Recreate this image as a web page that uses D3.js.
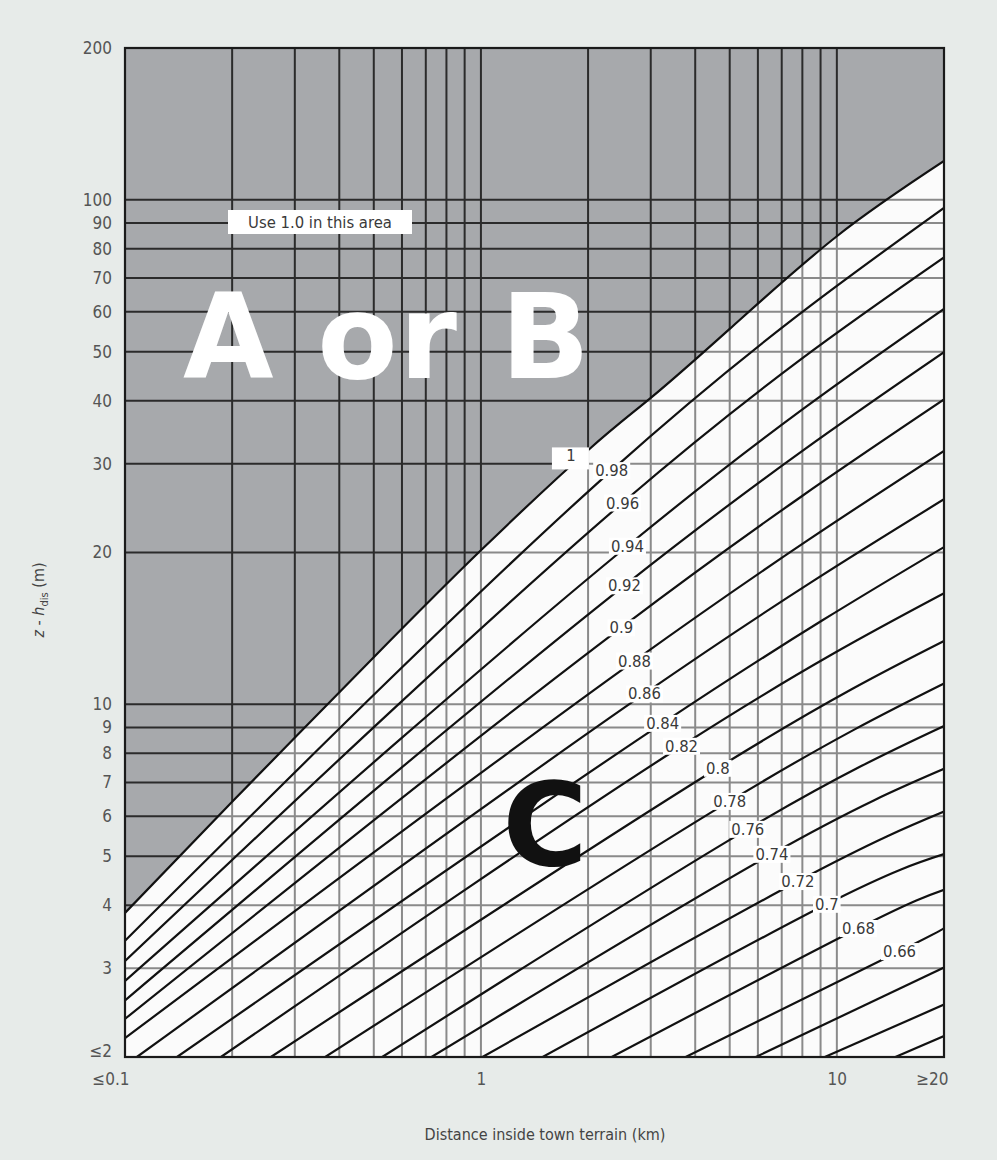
<!DOCTYPE html>
<html>
<head>
<meta charset="utf-8">
<script src="https://cdn.jsdelivr.net/npm/d3@7"></script>
<style>
  body { margin: 0; background: #e7ebe9; }
  svg { display: block; font-family: "DejaVu Sans Condensed", "DejaVu Sans", sans-serif; }
</style>
</head>
<body>
<svg id="chart" width="997" height="1160"></svg>
<script>
// axis ticks
const xTicks = [0.1, 1, 10, 20];
const xTickLabels = ["≤0.1", "1", "10", "≥20"];
const yTicks = [2, 3, 4, 5, 6, 7, 8, 9, 10, 20, 30, 40, 50, 60, 70, 80, 90, 100, 200];
const yTickLabels = ["≤2", "3", "4", "5", "6", "7", "8", "9", "10", "20", "30", "40", "50", "60", "70", "80", "90", "100", "200"];
const xGrid = [0.2, 0.3, 0.4, 0.5, 0.6, 0.7, 0.8, 0.9, 1, 2, 3, 4, 5, 6, 7, 8, 9, 10];
const yGrid = [3, 4, 5, 6, 7, 8, 9, 10, 20, 30, 40, 50, 60, 70, 80, 90, 100];

// contour lines of the factor: [distance km, z - h_dis m]
const c100 = [[0.1, 3.86], [0.2, 6.41], [0.5, 12.4], [1, 20.2], [2, 31.9], [3, 40.5], [5, 55.5], [10, 84.7], [20, 119.4]];
const c098 = [[0.1, 3.40], [2.33, 29.1], [20, 96.4]];
const c096 = [[0.1, 3.10], [2.50, 25.1], [20, 76.9]];
const c094 = [[0.1, 2.83], [2.58, 20.6], [20, 60.8]];
const c092 = [[0.1, 2.59], [2.53, 17.2], [20, 49.9]];
const c090 = [[0.1, 2.38], [2.48, 14.2], [20, 40.2]];
const c088 = [[0.1, 2.18], [2.70, 12.2], [20, 31.8]];
const c086 = [[0.108, 2], [2.88, 10.5], [20, 25.5]];
const c084 = [[0.140, 2], [3.24, 9.18], [20, 20.5]];
const c082 = [[0.186, 2], [3.66, 8.27], [20, 16.6]];
const c080 = [[0.257, 2], [4.63, 7.48], [20, 13.35]];
const c078 = [[0.365, 2], [5.0, 6.43], [20, 11.0]];
const c076 = [[0.528, 2], [5.62, 5.66], [20, 9.06]];
const c074 = [[0.726, 2], [6.57, 5.05], [20, 7.45]];
const c072 = [[1.01, 2], [7.77, 4.46], [20, 6.13]];
const c070 = [[1.49, 2], [9.37, 4.02], [20, 5.05]];
const c068 = [[2.33, 2], [11.5, 3.60], [20, 4.29]];
const c066 = [[3.76, 2], [15.0, 3.24], [20, 3.60]];
const c064 = [[5.92, 2], [20, 3.01]];
const c062 = [[9.25, 2], [20, 2.54]];
const c060 = [[14.6, 2], [20, 2.20]];

const contourLines = [c100, c098, c096, c094, c092, c090, c088, c086, c084, c082, c080,
  c078, c076, c074, c072, c070, c068, c066, c064, c062, c060];
const contourNames = ["1", "0.98", "0.96", "0.94", "0.92", "0.9", "0.88", "0.86", "0.84", "0.82", "0.8",
  "0.78", "0.76", "0.74", "0.72", "0.7", "0.68", "0.66", null, null, null];
// distance (km) where each label sits on its line
const labelKm = [1.79, 2.33, 2.50, 2.58, 2.53, 2.48, 2.70, 2.88, 3.24, 3.66, 4.63,
  5.0, 5.62, 6.57, 7.77, 9.37, 11.5, 15.0];

const svg = d3.select("#chart");
const pLeft = 125, pRight = 944, pTop = 48, pBottom = 1057;

const x = d3.scaleLog().domain([0.1, 20]).range([pLeft, pRight]);
const y = d3.scaleLog().domain([2, 200]).range([pBottom, pTop]);

const defs = svg.append("defs");
defs.append("clipPath").attr("id", "plotclip")
  .append("rect").attr("x", pLeft).attr("y", pTop).attr("width", pRight - pLeft).attr("height", pBottom - pTop);

const line = d3.line().x(d => x(d[0])).y(d => y(d[1])).curve(d3.curveNatural);
const area = d3.area().x(d => x(d[0])).y0(pTop).y1(d => y(d[1])).curve(d3.curveNatural);

defs.append("clipPath").attr("id", "greyclip")
  .append("path").attr("d", area(c100));

const plot = svg.append("g").attr("clip-path", "url(#plotclip)");

plot.append("rect")
  .attr("x", pLeft).attr("y", pTop).attr("width", pRight - pLeft).attr("height", pBottom - pTop)
  .attr("fill", "#fbfbfb");

function drawGrid(g, color) {
  g.selectAll(".vg").data(xGrid).enter().append("line")
    .attr("x1", d => x(d)).attr("x2", d => x(d))
    .attr("y1", pTop).attr("y2", pBottom)
    .attr("stroke", color).attr("stroke-width", 2);
  g.selectAll(".hg").data(yGrid).enter().append("line")
    .attr("x1", pLeft).attr("x2", pRight)
    .attr("y1", d => y(d)).attr("y2", d => y(d))
    .attr("stroke", color).attr("stroke-width", 2);
}

drawGrid(plot.append("g"), "#8a8a8a");

// grey area (A or B)
plot.append("path").attr("d", area(c100)).attr("fill", "#a7a9ac");
drawGrid(plot.append("g").attr("clip-path", "url(#greyclip)"), "#2b2b2b");

// contour lines
const paths = plot.selectAll(".contour").data(contourLines).enter().append("path")
  .attr("d", line)
  .attr("fill", "none")
  .attr("stroke", "#111")
  .attr("stroke-width", 2.2);

// border
svg.append("rect")
  .attr("x", pLeft).attr("y", pTop).attr("width", pRight - pLeft).attr("height", pBottom - pTop)
  .attr("fill", "none").attr("stroke", "#1a1a1a").attr("stroke-width", 2.2);

// find a point on a path at a given pixel x
function pointAtX(node, px) {
  let lo = 0, hi = node.getTotalLength();
  for (let i = 0; i < 40; i++) {
    const mid = (lo + hi) / 2;
    if (node.getPointAtLength(mid).x < px) lo = mid; else hi = mid;
  }
  return node.getPointAtLength(lo);
}

// line labels
const labels = svg.append("g");
paths.each(function (d, i) {
  if (!contourNames[i]) return;
  const p = pointAtX(this, x(labelKm[i]));
  // the "1" box sits a little above the boundary line
  const g = labels.append("g").attr("transform", `translate(${p.x},${p.y - (i === 0 ? 10 : 0)})`);
  const t = g.append("text")
    .attr("text-anchor", "middle").attr("dy", "0.35em")
    .attr("font-size", 16.5).attr("fill", "#3a3a3a")
    .text(contourNames[i]);
  const b = t.node().getBBox();
  const w = i === 0 ? 37 : b.width + 4;
  const h = i === 0 ? 22 : b.height - 2;
  g.insert("rect", "text")
    .attr("x", i === 0 ? -19 : b.x - 2).attr("y", b.y + 1)
    .attr("width", w).attr("height", h)
    .attr("fill", "#fff");
});

// y axis
const yAxis = d3.axisLeft(y).tickValues(yTicks).tickFormat((d, i) => yTickLabels[i]).tickSize(0).tickPadding(13);
svg.append("g").attr("transform", `translate(${pLeft},0)`).call(yAxis)
  .call(g => g.select(".domain").remove())
  .selectAll("text").attr("font-size", 17).attr("fill", "#555")
  .attr("font-family", "DejaVu Sans Condensed, DejaVu Sans, sans-serif")
  .attr("dy", (d, i) => i === 0 ? "-0.05em" : "0.32em");

// x axis
const xAxis = d3.axisBottom(x).tickValues(xTicks).tickFormat((d, i) => xTickLabels[i]).tickSize(0).tickPadding(16);
svg.append("g").attr("transform", `translate(0,${pBottom})`).call(xAxis)
  .call(g => g.select(".domain").remove())
  .selectAll("text").attr("font-size", 17).attr("fill", "#555")
  .attr("font-family", "DejaVu Sans Condensed, DejaVu Sans, sans-serif")
  .attr("text-anchor", (d, i) => (i === 0 || i === xTicks.length - 1) ? "end" : "middle")
  .attr("dx", (d, i) => (i === 0 || i === xTicks.length - 1) ? 4 : 0);

// axis titles
svg.append("text")
  .attr("x", 545).attr("y", 1140)
  .attr("text-anchor", "middle").attr("font-size", 16).attr("fill", "#444")
  .text("Distance inside town terrain (km)");

const yt = svg.append("text")
  .attr("transform", "translate(44,600) rotate(-90)")
  .attr("text-anchor", "middle").attr("font-size", 16).attr("fill", "#444");
yt.append("tspan").attr("font-style", "italic").text("z");
yt.append("tspan").text(" - ");
yt.append("tspan").attr("font-style", "italic").text("h");
yt.append("tspan").attr("font-size", 11).attr("dy", 4).text("dis");
yt.append("tspan").attr("dy", -4).text(" (m)");

// "Use 1.0 in this area"
const note = svg.append("g").attr("transform", "translate(320,222)");
note.append("rect").attr("x", -92).attr("y", -12).attr("width", 184).attr("height", 24).attr("fill", "#fff");
note.append("text").attr("text-anchor", "middle").attr("dy", "0.36em")
  .attr("font-size", 16.5).attr("fill", "#3a3a3a").text("Use 1.0 in this area");

// region letters
svg.append("text")
  .attr("x", 183).attr("y", 378)
  .attr("font-family", "DejaVu Sans, sans-serif").attr("font-weight", "bold")
  .attr("font-size", 117).attr("fill", "#fff")
  .attr("textLength", 407).attr("lengthAdjust", "spacing")
  .text("A or B");

svg.append("text")
  .attr("x", 545).attr("y", 865)
  .attr("text-anchor", "middle")
  .attr("font-family", "DejaVu Sans, sans-serif").attr("font-weight", "bold")
  .attr("font-size", 116).attr("fill", "#111")
  .text("C");
</script>
</body>
</html>
